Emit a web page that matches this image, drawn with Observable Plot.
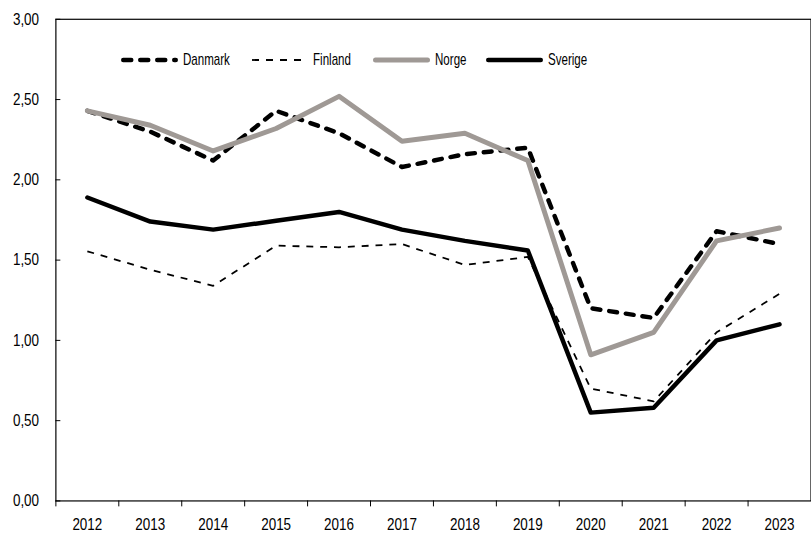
<!DOCTYPE html>
<html><head><meta charset="utf-8">
<script src="https://cdn.jsdelivr.net/npm/d3@7"></script>
<script src="https://cdn.jsdelivr.net/npm/@observablehq/plot@0.6"></script>
<style>
html,body{margin:0;padding:0;background:#fff;overflow:hidden;}
#wrap{position:relative;width:811px;height:539px;overflow:hidden;}
.item{position:absolute;top:50px;height:20px;display:flex;align-items:center;font-family:"Liberation Sans",Arial,sans-serif;font-size:17px;color:#000;white-space:nowrap;}
.item svg{display:block;}
.item span{display:inline-block;transform:scaleX(0.68);transform-origin:left center;}
</style>
</head><body>
<div id="wrap"></div>
<script>
const years = [2012,2013,2014,2015,2016,2017,2018,2019,2020,2021,2022,2023];
const danmark = [2.43,2.30,2.12,2.43,2.29,2.08,2.16,2.20,1.20,1.14,1.68,1.60];
const finland = [1.555,1.44,1.34,1.59,1.58,1.60,1.47,1.52,0.70,0.62,1.05,1.29];
const norge   = [2.43,2.34,2.18,2.32,2.52,2.24,2.29,2.12,0.91,1.05,1.62,1.70];
const sverige = [1.89,1.74,1.69,1.745,1.80,1.69,1.62,1.56,0.55,0.58,1.00,1.10];
const yTicks = [0,0.5,1,1.5,2,2.5,3];
const seriesNames = ["Danmark","Finland","Norge","Sverige"];
const seriesValues = [danmark, finland, norge, sverige];
const styles = {
  Danmark: {stroke:"#000", strokeWidth:4.5, strokeDasharray:"8,9", strokeLinecap:"round"},
  Finland: {stroke:"#000", strokeWidth:1.8, strokeDasharray:"7,7", strokeLinecap:"butt"},
  Norge:   {stroke:"#9f9995", strokeWidth:5, strokeLinecap:"round"},
  Sverige: {stroke:"#000", strokeWidth:4.5, strokeLinecap:"round"}
};
const rows = seriesNames.flatMap((s,i) => years.map((yr,j) => ({series:s, year:yr, value:seriesValues[i][j]})));
const fmt = d => d.toFixed(2).replace(".", ",");

const chart = Plot.plot({
  width: 820, height: 539,
  marginLeft: 56, marginRight: 0.5, marginTop: 19, marginBottom: 33,
  style: {fontFamily: '"Liberation Sans", Arial, sans-serif', fontSize: "17px", color: "#000", background: "#fff"},
  x: {type: "linear", domain: [years[0]-0.5, years[years.length-1]+0.5]},
  y: {domain: [0, 3]},
  marks: [
    Plot.frame({stroke: "#000", strokeWidth: 1.2}),
    Plot.axisY({ticks: yTicks, tickSize: 0, tickPadding: 17, tickFormat: fmt, label: null}),
    Plot.axisY({ticks: yTicks, tickSize: -5, tickFormat: () => "", label: null}),
    Plot.axisX(years, {tickSize: 0, tickPadding: 17, tickFormat: d => String(d), label: null}),
    Plot.axisX(years.map(y => y - 0.5), {tickSize: 6, tickFormat: () => "", label: null}),
    ...seriesNames.map(s => Plot.line(rows.filter(r => r.series === s), {
      x: "year", y: "value", strokeLinejoin: "round", ...styles[s]
    }))
  ]
});
// condense tick label glyphs horizontally around their anchor
chart.querySelectorAll("text").forEach(el => {
  const t = el.getAttribute("transform") || "";
  const x = +(el.getAttribute("x") || 0);
  el.setAttribute("transform", `${t} translate(${x},0) scale(0.8,1) translate(${-x},0)`);
});
const wrap = document.getElementById("wrap");
wrap.appendChild(chart);

// legend
const legendPos = {Danmark:121, Finland:252, Norge:373, Sverige:486};
const lineLen = {Danmark:57, Finland:52, Norge:57, Sverige:57};
const textGap = {Danmark:5, Finland:9, Norge:5, Sverige:5};
seriesNames.forEach(s => {
  const st = styles[s];
  const div = document.createElement("div");
  div.className = "item";
  div.style.left = legendPos[s] + "px";
  const L = lineLen[s];
  const pad = st.strokeLinecap === "round" ? st.strokeWidth/2 : 0;
  div.innerHTML = `<svg width="${L}" height="20"><line x1="${pad}" x2="${L-pad}" y1="10" y2="10" stroke="${st.stroke}" stroke-width="${st.strokeWidth}" stroke-linecap="${st.strokeLinecap}" ${st.strokeDasharray ? `stroke-dasharray="${st.strokeDasharray}"` : ""}/></svg><span style="margin-left:${textGap[s]}px">${s}</span>`;
  wrap.appendChild(div);
});
</script>
</body></html>
